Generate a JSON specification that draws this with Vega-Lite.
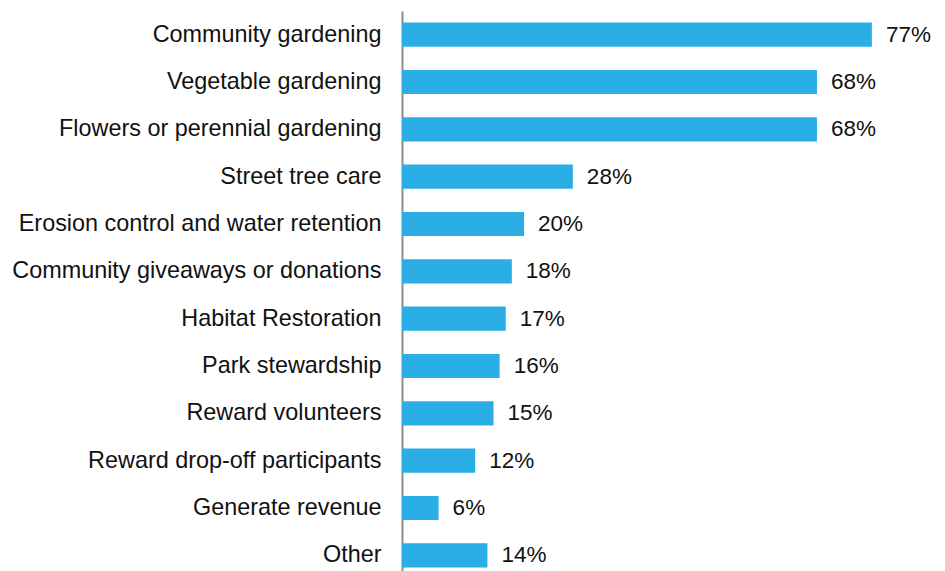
{
  "$schema": "https://vega.github.io/schema/vega-lite/v6.json",
  "width": 537,
  "height": 568,
  "autosize": {"type": "none"},
  "padding": {"left": 402, "top": 11, "right": 6, "bottom": 0},
  "background": "white",
  "config": {"view": {"stroke": null}, "font": "Liberation Sans"},
  "data": {
    "values": [
      {"category": "Community gardening", "pct": 0.77},
      {"category": "Vegetable gardening", "pct": 0.68},
      {"category": "Flowers or perennial gardening", "pct": 0.68},
      {"category": "Street tree care", "pct": 0.28},
      {"category": "Erosion control and water retention", "pct": 0.20},
      {"category": "Community giveaways or donations", "pct": 0.18},
      {"category": "Habitat Restoration", "pct": 0.17},
      {"category": "Park stewardship", "pct": 0.16},
      {"category": "Reward volunteers", "pct": 0.15},
      {"category": "Reward drop-off participants", "pct": 0.12},
      {"category": "Generate revenue", "pct": 0.06},
      {"category": "Other", "pct": 0.14}
    ]
  },
  "encoding": {
    "y": {
      "field": "category",
      "type": "nominal",
      "sort": null,
      "scale": {"paddingInner": 0.49, "paddingOuter": 0.245},
      "axis": {
        "title": null,
        "ticks": false,
        "labelFontSize": 23.4,
        "labelColor": "#111111",
        "labelPadding": 21,
        "labelLimit": 500,
        "domainColor": "#8c8c8c",
        "domainWidth": 2,
        "grid": false
      }
    },
    "x": {
      "field": "pct",
      "type": "quantitative",
      "scale": {"domain": [0, 0.88]},
      "axis": null
    }
  },
  "layer": [
    {"mark": {"type": "bar", "color": "#2AAEE5"}},
    {
      "mark": {"type": "text", "align": "left", "baseline": "middle", "dx": 14, "fontSize": 22.5, "color": "#111111"},
      "encoding": {"text": {"field": "pct", "type": "quantitative", "format": ".0%"}}
    }
  ]
}
